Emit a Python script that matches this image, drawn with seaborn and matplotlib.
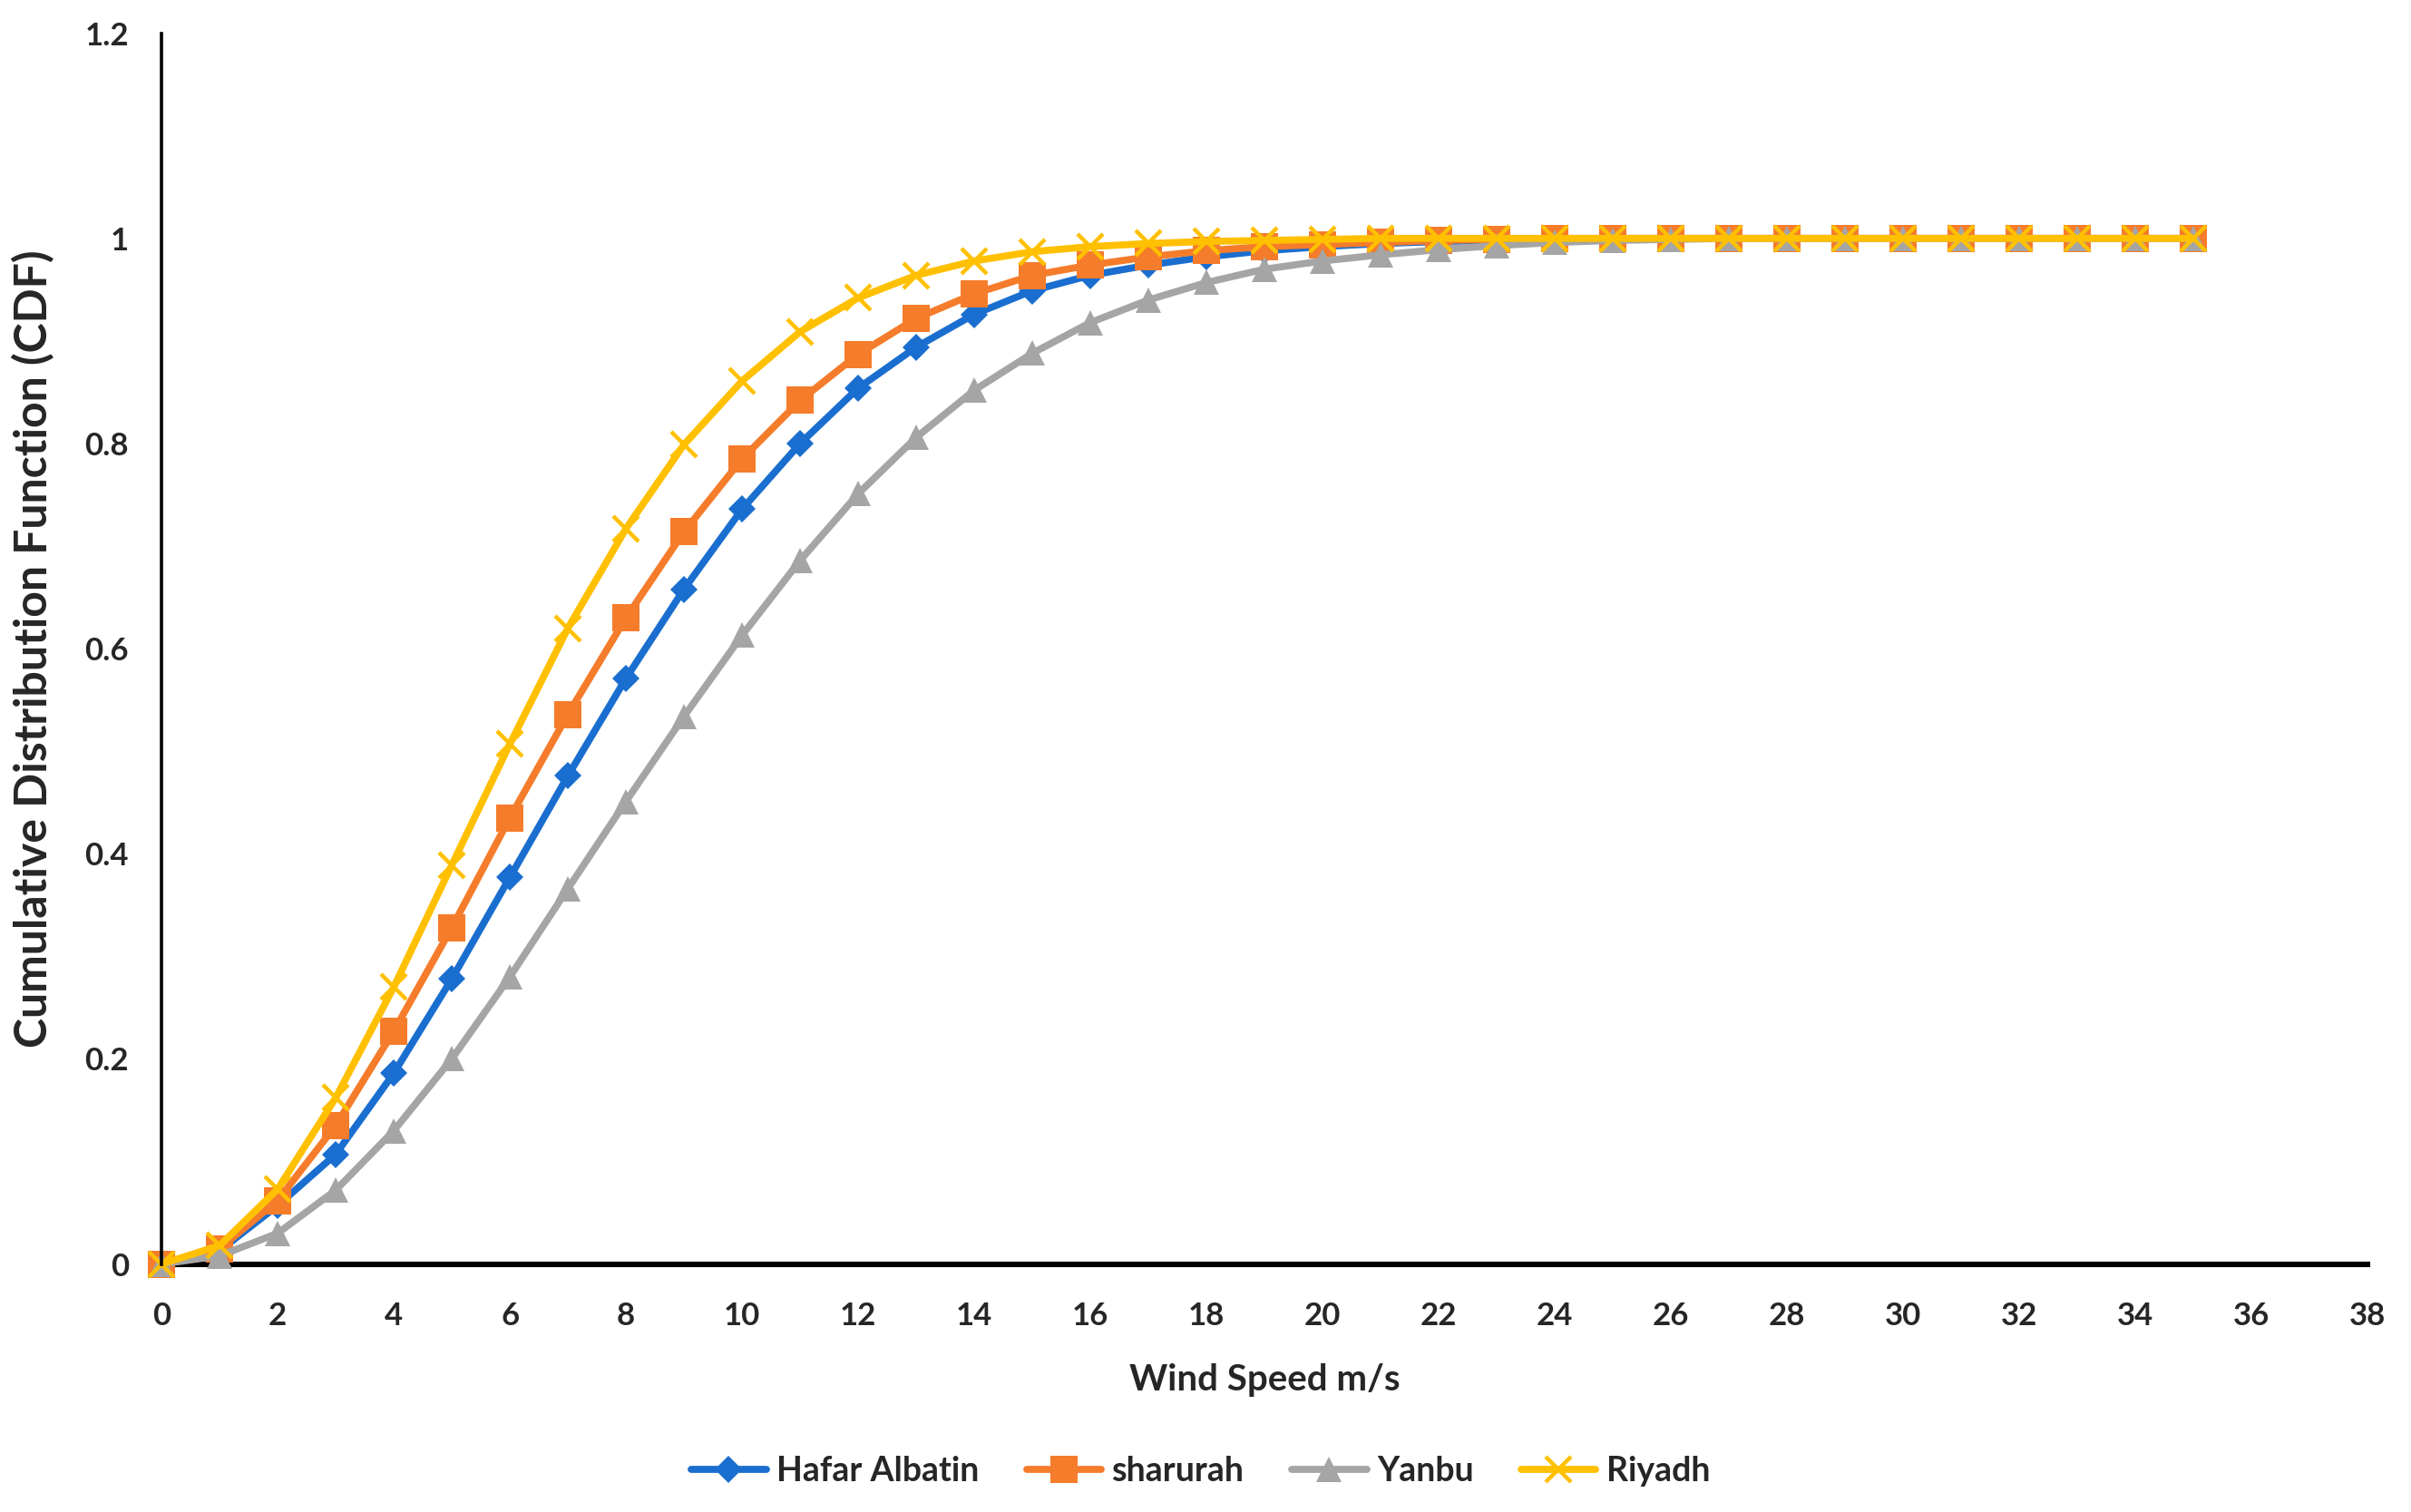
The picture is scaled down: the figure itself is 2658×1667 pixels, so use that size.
import pandas as pd
import matplotlib
matplotlib.use("Agg")
import matplotlib.pyplot as plt
import seaborn as sns

# --- Daten ---
wind_speed = list(range(0, 36))

hafar_albatin = [0, 0.013, 0.057, 0.107, 0.186, 0.278, 0.377, 0.476, 0.571, 0.658,
                 0.736, 0.800, 0.854, 0.894, 0.926, 0.949, 0.964, 0.974, 0.982, 0.988,
                 0.992, 0.995, 0.997, 0.998, 0.999, 1, 1, 1, 1, 1,
                 1, 1, 1, 1, 1, 1]
sharurah = [0, 0.015, 0.062, 0.135, 0.227, 0.328, 0.435, 0.536, 0.630, 0.714,
            0.785, 0.842, 0.887, 0.922, 0.946, 0.964, 0.974, 0.982, 0.988, 0.992,
            0.994, 0.996, 0.998, 0.999, 1, 1, 1, 1, 1, 1,
            1, 1, 1, 1, 1, 1]
yanbu = [0, 0.008, 0.030, 0.072, 0.130, 0.200, 0.280, 0.366, 0.451, 0.534,
         0.613, 0.686, 0.751, 0.806, 0.852, 0.888, 0.918, 0.940, 0.957, 0.970,
         0.978, 0.984, 0.989, 0.993, 0.996, 0.998, 0.999, 1, 1, 1,
         1, 1, 1, 1, 1, 1]
riyadh = [0, 0.018, 0.073, 0.162, 0.270, 0.389, 0.507, 0.620, 0.717, 0.799,
          0.861, 0.909, 0.942, 0.964, 0.978, 0.987, 0.992, 0.995, 0.997, 0.998,
          0.999, 1, 1, 1, 1, 1, 1, 1, 1, 1,
          1, 1, 1, 1, 1, 1]

series_names = ["Hafar Albatin", "sharurah", "Yanbu", "Riyadh"]
series_values = [hafar_albatin, sharurah, yanbu, riyadh]

x_ticks = list(range(0, 40, 2))
y_ticks = [0, 0.2, 0.4, 0.6, 0.8, 1, 1.2]
y_tick_labels = ["0", "0.2", "0.4", "0.6", "0.8", "1", "1.2"]

df = pd.DataFrame({
    "Wind Speed": wind_speed * len(series_names),
    "CDF": [v for vals in series_values for v in vals],
    "Station": [n for n in series_names for _ in wind_speed],
})

# --- Stil ---
sns.set_style("white")
plt.rcParams["font.family"] = ["Lato", "DejaVu Sans"]
plt.rcParams["font.weight"] = "bold"

colors = {"Hafar Albatin": "#1A6ECF", "sharurah": "#F57C2B",
          "Yanbu": "#A5A5A5", "Riyadh": "#FFC000"}
markers = {"Hafar Albatin": "D", "sharurah": "s", "Yanbu": "^", "Riyadh": "x"}
msizes = {"Hafar Albatin": 7.5, "sharurah": 10.5, "Yanbu": 10, "Riyadh": 10}

fig = plt.figure(figsize=(13.29, 8.335), dpi=200)
ax = fig.add_axes([0.067, 0.164, 0.915, 0.814])

for name in series_names:
    sub = df[df["Station"] == name]
    sns.lineplot(data=sub, x="Wind Speed", y="CDF", ax=ax, color=colors[name],
                 marker=markers[name], markersize=msizes[name],
                 markeredgewidth=1.6 if name == "Riyadh" else 0,
                 markeredgecolor=colors[name],
                 linewidth=2.8, label=name, sort=False, clip_on=False)

ax.set_xlim(0, 38)
ax.set_ylim(0, 1.2)
ax.set_xticks(x_ticks)
ax.set_yticks(y_ticks)
ax.set_yticklabels(y_tick_labels)
ax.tick_params(axis="both", length=0, labelsize=12.5)
ax.tick_params(axis="x", pad=15)
ax.tick_params(axis="y", pad=13)
for lbl in ax.get_xticklabels() + ax.get_yticklabels():
    lbl.set_fontweight("bold")

sns.despine(ax=ax)
ax.spines["left"].set_color("black")
ax.spines["left"].set_linewidth(1.3)
ax.spines["bottom"].set_color("black")
ax.spines["bottom"].set_linewidth(2.2)
ax.spines["bottom"].set_zorder(0.5)
ax.grid(False)

ax.set_xlabel("Wind Speed m/s", fontsize=14.5, fontweight="bold", labelpad=13)
ax.set_ylabel("Cumulative Distribution Function (CDF)", fontsize=18,
              fontweight="bold", labelpad=12)

handles, labels = ax.get_legend_handles_labels()
ax.legend_.remove()
fig.legend(handles, labels, loc="center", bbox_to_anchor=(0.498, 0.027), ncol=4,
           frameon=False, fontsize=13.5, handlelength=2.2, columnspacing=1.4,
           handletextpad=0.3)

fig.savefig("out.png", dpi=200)
